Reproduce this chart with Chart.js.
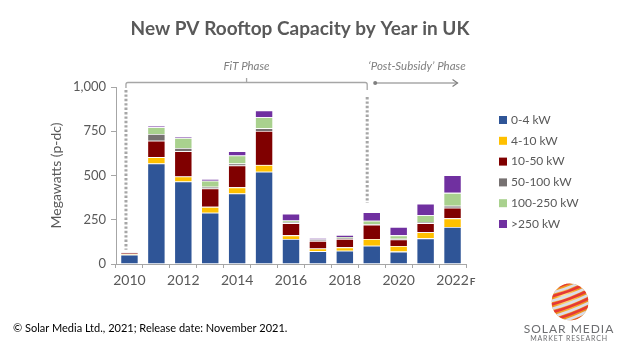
<!DOCTYPE html>
<html>
<head>
<meta charset="utf-8">
<script src="https://cdn.jsdelivr.net/npm/chart.js@4.4.0/dist/chart.umd.min.js"></script>
<style>
    html, body { margin: 0; padding: 0; background: #fff; }
    #wrap { width: 624px; height: 351px; }
</style>
</head>
<body>
<div id="wrap"><canvas id="rooftopChart" width="624" height="351"></canvas></div>
<script>
// values, MWp-dc per year
const YEARS = ['2010', '2011', '2012', '2013', '2014', '2015', '2016', '2017', '2018', '2019', '2020', '2021', '2022F'];
const BANDS = ['0-4 kW', '4-10 kW', '10-50 kW', '50-100 kW', '100-250 kW', '>250 kW'];
const BAND_COLORS = ['#2F5597', '#FFC000', '#800000', '#767171', '#A9D18E', '#7030A0'];

const MW_0_4 = [52, 568, 466, 290, 399, 521, 141, 73, 75, 103, 70, 145, 209];
const MW_4_10 = [4, 36, 29, 33, 34, 39, 21, 15, 19, 38, 32, 35, 49];
const MW_10_50 = [8, 92, 142, 104, 124, 192, 69, 42, 47, 81, 37, 51, 60];
const MW_50_100 = [1, 39, 19, 9, 11, 15, 6, 5, 6, 2, 4, 6, 11];
const MW_100_250 = [1, 38, 56, 34, 45, 62, 9, 4, 5, 20, 19, 39, 73];
const MW_OVER_250 = [1, 9, 6, 11, 24, 38, 38, 8, 12, 49, 47, 64, 100];

const Y_TICKS = [0, 250, 500, 750, 1000];

const TEXT_GREY = '#595959';
const NOTE_GREY = '#7F7F7F';
const LINE_GREY = '#A6A6A6';
const FONT = 'Lato, "Open Sans", sans-serif';

const SERIES = [MW_0_4, MW_4_10, MW_10_50, MW_50_100, MW_100_250, MW_OVER_250];

const X_TICK_PAD = 4;
const X_TICK_LEN = 4;

function dottedLine(ctx, x, y1, y2) {
    ctx.save();
    ctx.strokeStyle = LINE_GREY;
    ctx.lineWidth = 3;
    ctx.setLineDash([2.4, 2]);
    ctx.beginPath();
    ctx.moveTo(x, y1);
    ctx.lineTo(x, y2);
    ctx.stroke();
    ctx.restore();
}

// phases, legend, notes and logo drawn on top of the chart
const overlayPlugin = {
    id: 'overlay',
    afterDraw(chart) {
        const ctx = chart.ctx;
        const xs = chart.scales.x;
        const ys = chart.scales.y;
        const area = chart.chartArea;
        const step = xs.getPixelForValue(1) - xs.getPixelForValue(0);

        // title
        ctx.save();
        ctx.fillStyle = TEXT_GREY;
        ctx.font = `bold 19px ${FONT}`;
        ctx.textAlign = 'center';
        ctx.textBaseline = 'middle';
        ctx.fillText('New PV Rooftop Capacity by Year in UK', 300, 29);
        ctx.restore();

        // FiT phase bracket
        const fitLeft = xs.getPixelForValue(0) - 0.13 * step;
        const fitRight = xs.getPixelForValue(9) - 0.17 * step;
        const fitMid = (fitLeft + fitRight) / 2;
        const by = area.top - 4.5;
        ctx.save();
        ctx.strokeStyle = LINE_GREY;
        ctx.lineWidth = 1.3;
        ctx.beginPath();
        ctx.moveTo(fitLeft, area.top + 1);
        ctx.lineTo(fitLeft, by + 2);
        ctx.quadraticCurveTo(fitLeft, by, fitLeft + 2, by);
        ctx.lineTo(fitRight - 2, by);
        ctx.quadraticCurveTo(fitRight, by, fitRight, by + 2);
        ctx.lineTo(fitRight, area.top + 3);
        ctx.moveTo(fitMid, by);
        ctx.lineTo(fitMid, by - 4.5);
        ctx.stroke();
        ctx.restore();

        dottedLine(ctx, fitLeft, area.top + 3, ys.getPixelForValue(80));
        dottedLine(ctx, fitRight, area.top + 10, ys.getPixelForValue(345));

        // post-subsidy arrow
        const arrowStart = fitRight + 8;
        const arrowEnd = xs.getPixelForValue(12) + 5;
        const ay = area.top - 4;
        ctx.save();
        ctx.strokeStyle = NOTE_GREY;
        ctx.fillStyle = NOTE_GREY;
        ctx.lineWidth = 1.2;
        ctx.beginPath();
        ctx.moveTo(arrowStart, ay);
        ctx.lineTo(arrowEnd, ay);
        ctx.stroke();
        ctx.beginPath();
        ctx.arc(arrowStart, ay, 2, 0, Math.PI * 2);
        ctx.fill();
        ctx.beginPath();
        ctx.moveTo(arrowEnd - 5, ay - 3.5);
        ctx.lineTo(arrowEnd, ay);
        ctx.lineTo(arrowEnd - 5, ay + 3.5);
        ctx.stroke();
        ctx.restore();

        ctx.save();
        ctx.fillStyle = NOTE_GREY;
        ctx.font = `italic 11.5px ${FONT}`;
        ctx.textAlign = 'center';
        ctx.textBaseline = 'middle';
        ctx.fillText('FiT Phase', fitMid, area.top - 21);
        ctx.fillText('\u2018Post-Subsidy\u2019 Phase', 417, area.top - 21);
        ctx.restore();

        // small bold F after the last year label, sharing its baseline
        const last = YEARS.length - 1;
        const labelMid = area.bottom + X_TICK_LEN + X_TICK_PAD + 14 * 1.2 / 2;
        ctx.save();
        ctx.font = `14px ${FONT}`;
        const yearW = ctx.measureText(YEARS[last].replace('F', '')).width;
        ctx.fillStyle = TEXT_GREY;
        ctx.font = `bold 10px ${FONT}`;
        ctx.textAlign = 'left';
        ctx.textBaseline = 'alphabetic';
        ctx.fillText('F', xs.getPixelForValue(last) + yearW / 2 + 1, labelMid + 5);
        ctx.restore();

        // legend
        ctx.save();
        ctx.font = `12px ${FONT}`;
        ctx.textBaseline = 'middle';
        chart.data.datasets.forEach((ds, i) => {
            const ly = 120 + i * 20.8;
            ctx.fillStyle = ds.backgroundColor;
            ctx.fillRect(499, ly - 4, 8, 8);
            ctx.fillStyle = TEXT_GREY;
            ctx.fillText(ds.label, 511, ly);
        });
        ctx.restore();

        // source note
        ctx.save();
        ctx.fillStyle = '#000';
        ctx.font = `11px ${FONT}`;
        ctx.textBaseline = 'middle';
        ctx.fillText('\u00A9 Solar Media Ltd., 2021; Release date: November 2021.', 13, 328);
        ctx.restore();

        // logo
        const cx = 570, cy = 302, r = 18.5;
        ctx.save();
        ctx.beginPath();
        ctx.arc(cx, cy, r, 0, Math.PI * 2);
        ctx.clip();
        const g = ctx.createRadialGradient(cx - 6, cy - 6, 2, cx, cy, r);
        g.addColorStop(0, '#FFE08A');
        g.addColorStop(0.6, '#F9A825');
        g.addColorStop(1, '#E8891A');
        ctx.fillStyle = g;
        ctx.fillRect(cx - r, cy - r, r * 2, r * 2);
        ctx.lineWidth = 2.6;
        for (let k = -4; k <= 4; k++) {
            const off = k * 8;
            ctx.strokeStyle = '#D9DDEA';
            ctx.beginPath();
            ctx.moveTo(cx - r, cy + off + 7);
            ctx.quadraticCurveTo(cx, cy + off + 2, cx + r, cy + off - 7);
            ctx.stroke();
            ctx.strokeStyle = '#E53935';
            ctx.beginPath();
            ctx.moveTo(cx - r, cy + off + 10.5);
            ctx.quadraticCurveTo(cx, cy + off + 5.5, cx + r, cy + off - 3.5);
            ctx.stroke();
        }
        ctx.restore();

        ctx.save();
        ctx.fillStyle = '#6D6E71';
        ctx.textAlign = 'center';
        ctx.textBaseline = 'middle';
        ctx.font = `12px ${FONT}`;
        ctx.letterSpacing = '1px';
        ctx.fillText('SOLAR MEDIA', 569, 329);
        ctx.font = `7px ${FONT}`;
        ctx.letterSpacing = '0.8px';
        ctx.fillText('MARKET RESEARCH', 569, 339);
        ctx.restore();
    }
};

function initRooftopChart() {
    const canvas = document.getElementById('rooftopChart');
    const ctx = canvas.getContext('2d');

    const datasets = BANDS.map((label, i) => ({
        label,
        data: SERIES[i],
        backgroundColor: BAND_COLORS[i],
        borderColor: 'rgba(255,255,255,0.45)',
        borderWidth: 0.8,
        categoryPercentage: 1,
        barPercentage: 0.67
    }));

    new Chart(ctx, {
        type: 'bar',
        data: { labels: YEARS, datasets },
        options: {
            responsive: false,
            animation: false,
            devicePixelRatio: 1,
            layout: { padding: { left: 48, right: 158, top: 87, bottom: 57 } },
            plugins: {
                legend: { display: false },
                tooltip: { enabled: false }
            },
            scales: {
                x: {
                    stacked: true,
                    offset: true,
                    grid: {
                        offset: true,
                        drawOnChartArea: false,
                        drawTicks: true,
                        tickLength: X_TICK_LEN,
                        tickColor: LINE_GREY
                    },
                    border: { color: LINE_GREY, width: 1 },
                    ticks: {
                        autoSkip: false,
                        maxRotation: 0,
                        padding: X_TICK_PAD,
                        color: TEXT_GREY,
                        font: { family: FONT, size: 14 },
                        callback: (value, index) => index % 2 === 0 ? YEARS[index].replace('F', '') : ''
                    },
                    afterFit: (scale) => { scale.height = 30; }
                },
                y: {
                    stacked: true,
                    min: Y_TICKS[0],
                    max: Y_TICKS[Y_TICKS.length - 1],
                    afterBuildTicks: (scale) => { scale.ticks = Y_TICKS.map(v => ({ value: v })); },
                    grid: {
                        drawOnChartArea: false,
                        drawTicks: true,
                        tickLength: 5,
                        tickColor: LINE_GREY
                    },
                    border: { color: LINE_GREY, width: 1 },
                    ticks: {
                        padding: 5,
                        color: TEXT_GREY,
                        font: { family: FONT, size: 13 }
                    },
                    title: {
                        display: true,
                        text: 'Megawatts (p-dc)',
                        color: TEXT_GREY,
                        font: { family: FONT, size: 14 },
                        padding: { top: 0, bottom: 0 }
                    },
                    afterFit: (scale) => { scale.width = 68; }
                }
            }
        },
        plugins: [overlayPlugin]
    });
}

document.addEventListener('DOMContentLoaded', initRooftopChart);
</script>
</body>
</html>
